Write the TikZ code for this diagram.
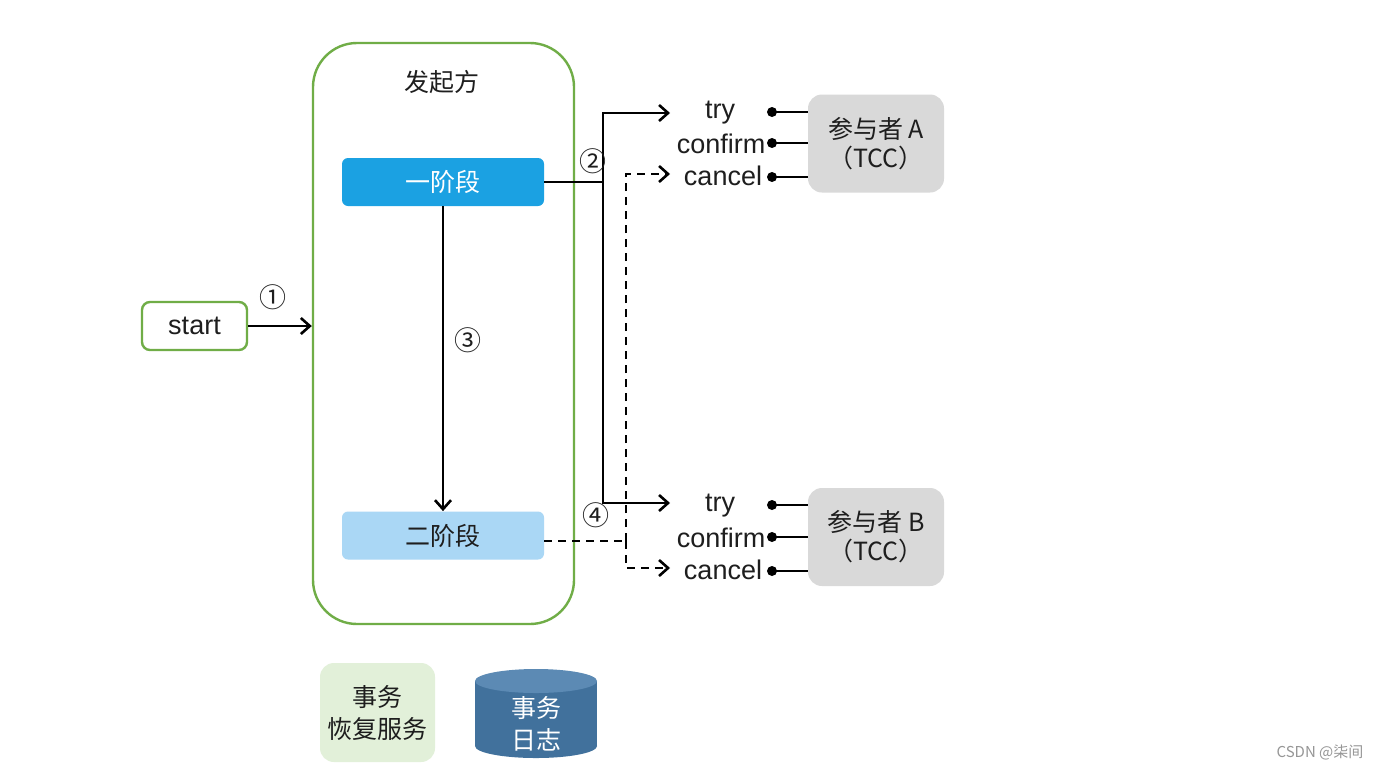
\documentclass[tikz,border=0pt]{standalone}
\usepackage{fontspec}
\setmainfont{Liberation Sans}
\newfontfamily\cjk{Noto Sans CJK SC}
\usetikzlibrary{arrows.meta}
\definecolor{grn}{RGB}{112,173,71}
\definecolor{blueA}{RGB}{27,161,226}
\definecolor{blueB}{RGB}{170,215,245}
\definecolor{greyP}{RGB}{217,217,217}
\definecolor{greenL}{RGB}{226,240,217}
\definecolor{cylB}{RGB}{65,113,156}
\definecolor{cylT}{RGB}{92,138,180}
\definecolor{txt}{RGB}{30,30,30}
\definecolor{wmc}{RGB}{150,150,150}
\tikzset{
  ln/.style={line width=1.3pt, draw=black},
  arr/.style={ln, -{Straight Barb[length=4.5pt,width=8pt,line width=1.3pt]}},
  dln/.style={ln, dash pattern=on 4pt off 3pt},
  darr/.style={dln, -{Straight Barb[length=4.5pt,width=8pt,line width=1.3pt]}},
  bigbox/.style={draw=grn, line width=1.2pt, rounded corners=22pt, minimum width=130.5pt, minimum height=290.5pt, inner sep=0pt},
  phaseone/.style={fill=blueA, text=white, rounded corners=3pt, minimum width=101pt, minimum height=24pt, inner sep=0pt, font=\cjk\fontsize{12.5}{15}\selectfont},
  phasetwo/.style={fill=blueB, text=txt, rounded corners=3pt, minimum width=101pt, minimum height=24pt, inner sep=0pt, font=\cjk\fontsize{12.5}{15}\selectfont},
  startbox/.style={draw=grn, line width=1.2pt, rounded corners=4pt, minimum width=52.5pt, minimum height=24pt, inner sep=0pt, text=txt, font=\fontsize{13.5}{16}\selectfont},
  cn/.style={text=txt, font=\cjk\fontsize{12.5}{15}\selectfont},
  num/.style={text=txt, font=\cjk\fontsize{13.5}{15}\selectfont, inner sep=0pt},
  lbl/.style={text=txt, font=\fontsize{13.5}{16}\selectfont, inner sep=0pt},
  dotn/.style={circle, fill=black, inner sep=0pt, minimum size=5pt},
  part/.style={fill=greyP, rounded corners=7pt, minimum width=68pt, minimum height=49pt, inner sep=0pt, align=center, text=txt, font=\cjk\fontsize{12.5}{14.5}\selectfont},
  recov/.style={fill=greenL, rounded corners=7pt, minimum width=57.5pt, minimum height=49.5pt, inner sep=0pt, align=center, text=txt, font=\cjk\fontsize{12.5}{16}\selectfont},
  cyltext/.style={align=center, text=white, font=\cjk\fontsize{12.5}{16}\selectfont},
  wm/.style={text=wmc, font=\cjk\fontsize{7.5}{9}\selectfont}
}
\begin{document}
\begin{tikzpicture}[x=0.5pt,y=-0.5pt]
\useasboundingbox[fill=white] (0,0) rectangle (1400,771);
% initiator
\node[bigbox] (init) at (443.5,333.5) {};
\node[cn] (title) at (442,82) {发起方};
\node[phaseone] (p1) at (443,182) {一阶段};
\node[phasetwo] (p2) at (443,535.5) {二阶段};
% start
\node[startbox] (start) at (194.5,326) {start};
\draw[arr] (start.east) -- (init.west |- start.east);
\node[num] (n1) at (273,297) {①};
% phase 1 -> phase 2
\draw[arr] (p1.south) -- (p2.north);
\node[num] (n3) at (468,340) {③};
% labels A
\node[lbl] (tryA) at (720,113) {try};
\node[lbl] (confA) at (721,144) {confirm};
\node[lbl] (canA) at (723,176) {cancel};
% labels B
\node[lbl] (tryB) at (720,506) {try};
\node[lbl] (confB) at (721,538) {confirm};
\node[lbl] (canB) at (723,570) {cancel};
% participants
\node[part] (pA) at (876,143.5) {参与者 A\\（TCC）};
\node[part] (pB) at (876,537) {参与者 B\\（TCC）};
% dots
\node[dotn] (dA1) at (772,112) {};
\node[dotn] (dA2) at (772,143) {};
\node[dotn] (dA3) at (772,177) {};
\node[dotn] (dB1) at (772,505) {};
\node[dotn] (dB2) at (772,537) {};
\node[dotn] (dB3) at (772,571) {};
\foreach \d in {dA1,dA2,dA3}{\draw[ln] (\d.center) -- (pA.west |- \d.center);}
\foreach \d in {dB1,dB2,dB3}{\draw[ln] (\d.center) -- (pB.west |- \d.center);}
% phase 1 arrows
\coordinate (j1) at (603,182);
\coordinate (tA) at (670,113);
\coordinate (tB) at (670,503);
\draw[ln] (p1.east) -- (j1);
\draw[arr] (j1) |- (tA);
\draw[arr] (j1) |- (tB);
\node[num] (n2) at (593,161) {②};
% phase 2 dashed arrows
\coordinate (j2) at (626,541);
\coordinate (cA) at (670,174);
\coordinate (cB) at (670,568);
\draw[dln] (p2.east |- j2) -- (j2);
\draw[darr] (j2) |- (cA);
\draw[darr] (j2) |- (cB);
\node[num] (n4) at (596,515) {④};
% bottom
\node[recov] (rec) at (377.5,712.5) {事务\\恢复服务};
\fill[cylB] (536,746) ellipse [x radius=61, y radius=12];
\fill[cylB] (475,681) rectangle (597,746);
\fill[cylT] (536,681) ellipse [x radius=61, y radius=12];
\node[cyltext] (log) at (536,724) {事务\\日志};
\node[wm] (wmark) at (1320,752) {CSDN @柒间};
\end{tikzpicture}
\end{document}
